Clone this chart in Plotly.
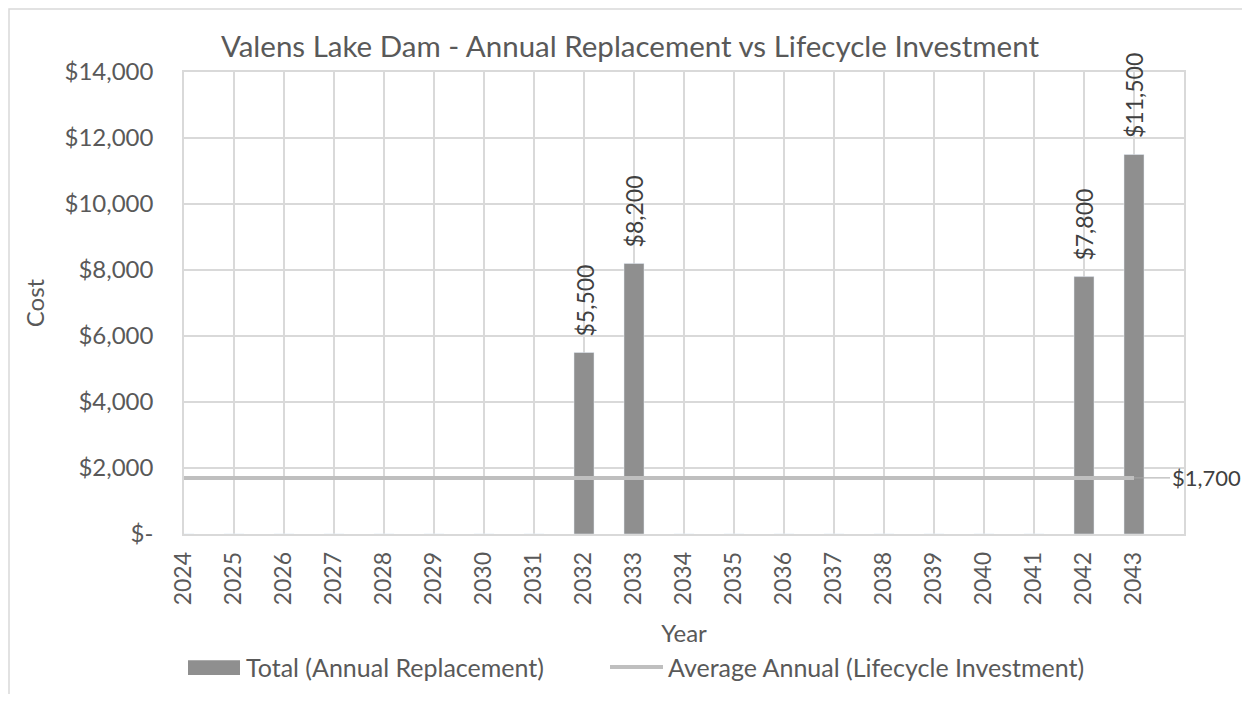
import plotly.graph_objects as go

years = list(range(2024, 2044))
annual_replacement = [0, 0, 0, 0, 0, 0, 0, 0, 5500, 8200,
                      0, 0, 0, 0, 0, 0, 0, 0, 7800, 11500]
average_annual = 1700
y_ticks = [0, 2000, 4000, 6000, 8000, 10000, 12000, 14000]
series_names = ["Total (Annual Replacement)", "Average Annual (Lifecycle Investment)"]

FONT = "Lato"
TXT = "#595959"
LBL = "#404040"
GRID = "#d9d9d9"
BAR = "#8f8f8f"
LINE = "#bfbfbf"


def money(v):
    return "$-" if v == 0 else "${:,.0f}".format(v)


fig = go.Figure()
fig.add_trace(go.Bar(
    x=years, y=annual_replacement, name=series_names[0],
    marker_color=BAR, width=0.4, showlegend=False,
))
fig.add_trace(go.Scatter(
    x=years, y=[average_annual] * len(years), mode="lines",
    name=series_names[1], showlegend=False,
    line=dict(color=LINE, width=4),
))

# rotated data labels above the bars (Excel leaves a gap above the bar)
for yr, v in zip(years, annual_replacement):
    if v:
        fig.add_annotation(x=yr, y=v, text=money(v), textangle=-90,
                           showarrow=False, yanchor="bottom", yshift=14,
                           font=dict(family=FONT, size=23, color=LBL))

# data label for the average line, with leader line
fig.add_annotation(
    x=years[-1], y=average_annual, text=money(average_annual),
    showarrow=True, arrowhead=0, arrowwidth=1, arrowcolor="#a6a6a6",
    ax=72, ay=0, font=dict(family=FONT, size=22, color=LBL),
)

# legend drawn like Excel's (wide bar swatch)
fig.add_shape(type="rect", xref="paper", yref="paper",
              x0=0.004, x1=0.056, y0=-0.305, y1=-0.273,
              fillcolor=BAR, line=dict(width=0))
fig.add_annotation(xref="paper", yref="paper", x=0.060, y=-0.288,
                   xanchor="left", yanchor="middle", showarrow=False,
                   text=series_names[0], font=dict(family=FONT, size=25, color=TXT))
fig.add_shape(type="line", xref="paper", yref="paper",
              x0=0.426, x1=0.479, y0=-0.288, y1=-0.288,
              line=dict(color=LINE, width=4))
fig.add_annotation(xref="paper", yref="paper", x=0.482, y=-0.288,
                   xanchor="left", yanchor="middle", showarrow=False,
                   text=series_names[1], font=dict(family=FONT, size=25, color=TXT))

# outer chart frame (cropped at right / bottom like the source)
fig.add_shape(type="rect", xref="paper", yref="paper",
              x0=-0.175, x1=1.2, y0=-0.5, y1=1.1364,
              line=dict(color=GRID, width=1.5), layer="below")

# page body adds 8px around the figure; size it so nothing scrolls
fig.update_layout(
    width=1234, height=686,
    margin=dict(l=176, r=58, t=64, b=160),
    paper_bgcolor="white", plot_bgcolor="white",
    font=dict(family=FONT, color=TXT, size=24),
    title=dict(text="Valens Lake Dam - Annual Replacement vs Lifecycle Investment",
               x=0.504, xanchor="center", y=0.943, yanchor="middle",
               font=dict(family=FONT, size=29.5, color=TXT)),
    showlegend=False,
)
fig.update_xaxes(
    range=[2024, 2044], tickvals=years, ticktext=[str(y) for y in years],
    tickangle=-90, showgrid=True, gridcolor=GRID, gridwidth=1.5,
    showline=True, linecolor=GRID, linewidth=1.5, mirror=True,
    ticks="", ticklabelstandoff=7, automargin=False,
    tickfont=dict(family=FONT, size=23, color=TXT),
    title=dict(text="Year", font=dict(family=FONT, size=24, color=TXT), standoff=21),
    zeroline=False,
)
fig.update_yaxes(
    range=[0, 14000], tickvals=y_ticks, ticktext=[money(v) for v in y_ticks],
    showgrid=True, gridcolor=GRID, gridwidth=1.5,
    showline=True, linecolor=GRID, linewidth=1.5, mirror=True,
    ticks="", ticklabelstandoff=24, zeroline=False, automargin=False,
    tickfont=dict(family=FONT, size=24, color=TXT),
    title=dict(text="Cost", font=dict(family=FONT, size=24, color=TXT), standoff=13),
)

fig.write_html("out.html")
